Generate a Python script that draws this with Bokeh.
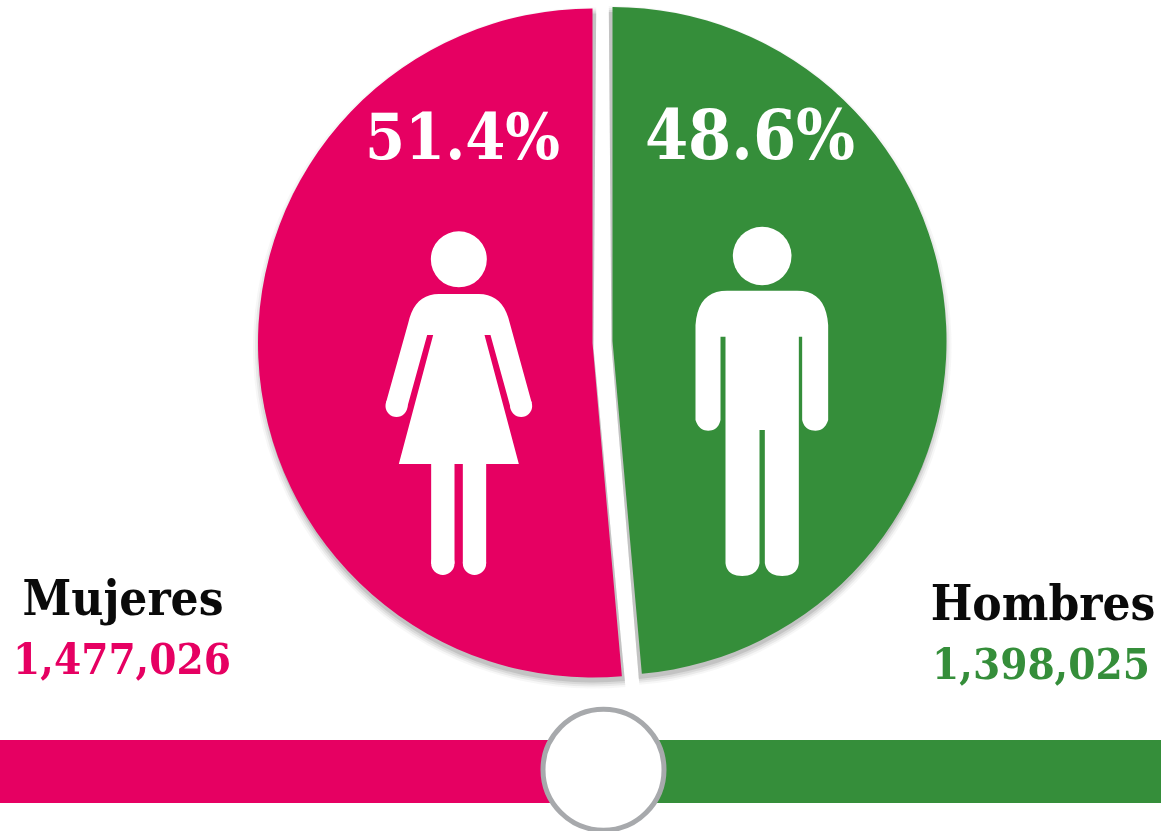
from math import pi
from bokeh.plotting import figure
from bokeh.models import Range1d
from bokeh.core.properties import value
from bokeh.embed import file_html
from bokeh.resources import INLINE

categories = ["Mujeres", "Hombres"]
percent = [51.4, 48.6]
people = [1477026, 1398025]
colors = ["#E60062", "#358E3A"]

W, H = 1161, 831
FONT = value("'DejaVu Serif Condensed', 'DejaVu Serif'")

p = figure(width=W + 1, height=H + 1, output_backend="svg", toolbar_location=None,
           x_range=Range1d(-1, W), y_range=Range1d(-0.5, H + 0.5), min_border=0,
           styles={"position": "fixed", "left": "-1px", "top": "-1px"})
p.axis.visible = False
p.grid.visible = False
p.outline_line_color = None


def Y(py):
    return H - py


def label(x, base, text, color, size):
    # the renderer sets this baseline about 0.387 em below the given position
    p.text(x=[x], y=[Y(base - 0.387 * size)], text=[text], text_color=color, text_font=FONT,
           text_font_style="bold", text_font_size=f"{size}px", text_align="center",
           text_baseline="alphabetic")


# pie
pct_to_rad = 2 * pi / 100
top = pi / 2
pink_end = top + percent[0] * pct_to_rad
green_start = top - percent[1] * pct_to_rad
pink_c, pink_r = (592, 343), 334.5
green_c, green_r = (612, 341), 334

for extra, a in [(6, 0.06), (4, 0.10), (2, 0.14), (0, 0.22)]:
    p.wedge(x=pink_c[0] + 1, y=Y(pink_c[1] + 5), radius=pink_r + extra,
            start_angle=top - 0.008, end_angle=pink_end + 0.006,
            color="#777777", alpha=a, line_color=None)
    p.wedge(x=green_c[0] - 1, y=Y(green_c[1] + 5), radius=green_r + extra,
            start_angle=green_start - 0.006, end_angle=top + 0.008,
            color="#777777", alpha=a, line_color=None)

p.wedge(x=pink_c[0], y=Y(pink_c[1]), radius=pink_r, start_angle=top, end_angle=pink_end,
        fill_color=colors[0], line_color=None)
p.wedge(x=green_c[0], y=Y(green_c[1]), radius=green_r, start_angle=green_start, end_angle=top,
        fill_color=colors[1], line_color=None)


# icons, outlined in thirds of a pixel
def woman(zx, zy):
    return 370 + zx / 3, Y(220 + zy / 3)


def man(zx, zy):
    return 680 + zx / 3, Y(220 + zy / 3)


def curve(a, c, b, n=10):
    out = []
    for i in range(n + 1):
        t = i / n
        out.append(((1 - t) ** 2 * a[0] + 2 * t * (1 - t) * c[0] + t ** 2 * b[0],
                    (1 - t) ** 2 * a[1] + 2 * t * (1 - t) * c[1] + t ** 2 * b[1]))
    return out


def shape(pts, f):
    xy = [f(a, b) for a, b in pts]
    p.patch([q[0] for q in xy], [q[1] for q in xy], fill_color="white", line_color=None)


def disc(zx, zy, zr, f):
    x, y = f(zx, zy)
    p.circle(x=x, y=y, radius=zr / 3, fill_color="white", line_color=None)


disc(265, 118, 84, woman)
disc(78, 558, 33, woman)
disc(452, 558, 33, woman)
shape(curve((113, 310), (132, 222), (205, 222))
      + curve((325, 222), (398, 222), (418, 310))
      + [(484, 550), (421, 566), (360, 345), (342, 345), (445, 732), (347, 732), (347, 1030),
         (312, 1065), (277, 1030), (277, 732), (252, 732), (252, 1030), (217, 1065), (182, 1030),
         (182, 732), (85, 732), (188, 345), (170, 345), (109, 566), (46, 550)], woman)
disc(217, 1030, 35, woman)
disc(312, 1030, 35, woman)

disc(245, 108, 88, man)
shape(curve((45, 315), (52, 212), (140, 212))
      + curve((350, 212), (436, 212), (443, 315))
      + curve((443, 600), (433, 632), (405, 632))
      + curve((405, 632), (372, 632), (365, 600))
      + [(365, 350), (355, 350)]
      + curve((355, 1030), (350, 1068), (305, 1068))
      + curve((305, 1068), (260, 1068), (253, 1030))
      + [(253, 630), (237, 630)]
      + curve((237, 1030), (230, 1068), (185, 1068))
      + curve((185, 1068), (140, 1068), (135, 1030))
      + [(135, 350), (120, 350)]
      + curve((120, 600), (113, 632), (83, 632))
      + curve((83, 632), (55, 632), (45, 600)), man)

# percentages
label(462, 161, f"{percent[0]}%", "white", 64)
label(749.5, 161, f"{percent[1]}%", "white", 69)

# names and counts
label(122.5, 617, categories[0], "#0a0a0a", 49)
label(121.5, 675, f"{people[0]:,}", colors[0], 43.5)
label(1042.5, 622, categories[1], "#0a0a0a", 49)
label(1040.5, 680, f"{people[1]:,}", colors[1], 43.5)

# slider bar
split = W * percent[0] / 100
p.hbar(y=[Y(771.5)], left=[-3], right=[split], height=63, fill_color=colors[0], line_color=None)
p.hbar(y=[Y(771.5)], left=[split], right=[W + 3], height=63, fill_color=colors[1], line_color=None)
p.circle(x=[603], y=[Y(769.7)], radius=60.5, fill_color="white", line_color="#A7A9AC", line_width=5)

open("out.html", "w").write(file_html(p, INLINE))
